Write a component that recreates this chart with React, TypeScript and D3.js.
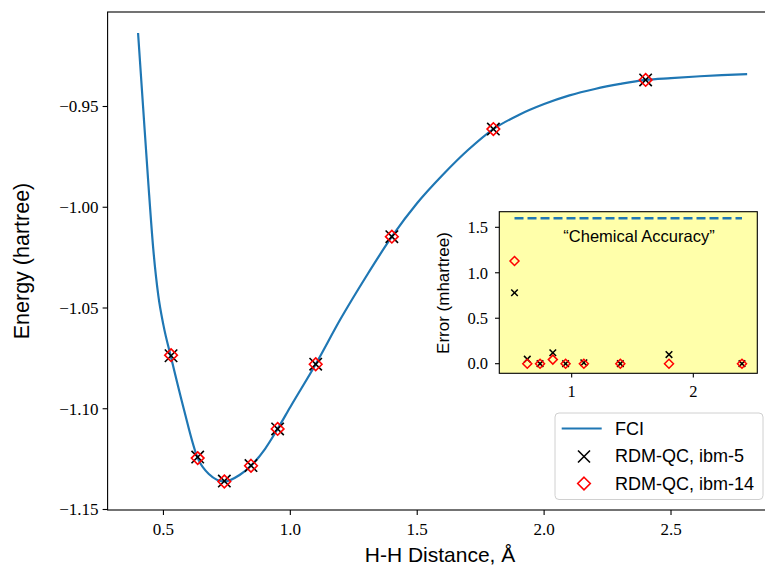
import React from 'react';
import * as d3 from 'd3';

// FCI potential energy curve
const fciR = [0.40, 0.42, 0.44, 0.46, 0.48, 0.50, 0.53, 0.58, 0.635, 0.68, 0.74, 0.80, 0.845, 0.90, 0.95, 1.00, 1.10, 1.20, 1.30, 1.40, 1.50, 1.60, 1.70, 1.80, 1.90, 2.00, 2.10, 2.20, 2.30, 2.40, 2.50, 2.60, 2.70, 2.80];
const fciE = [-0.9135, -0.9505, -0.9872, -1.0208, -1.0440, -1.0585, -1.0745, -1.1000, -1.1245, -1.1325, -1.1361, -1.1329, -1.1283, -1.1200, -1.1100, -1.0991, -1.0779, -1.0550, -1.0341, -1.0146, -0.9979, -0.9840, -0.9716, -0.9612, -0.9542, -0.9488, -0.9445, -0.9413, -0.9388, -0.9368, -0.9359, -0.9351, -0.9344, -0.9339];

// RDM-QC points
const pointR = [0.53, 0.635, 0.74, 0.845, 0.95, 1.1, 1.4, 1.8, 2.4];
const ibm5E = [-1.0737, -1.1240, -1.1359, -1.1282, -1.1100, -1.0779, -1.0146, -0.9612, -0.9368];
const ibm14E = [-1.0734, -1.1245, -1.1361, -1.1283, -1.1100, -1.0779, -1.0146, -0.9612, -0.9368];
const ibm5Err = [0.78, 0.05, 0.0, 0.12, 0.0, 0.01, 0.0, 0.10, 0.0];
const ibm14Err = [1.13, 0.0, 0.0, 0.045, 0.0, 0.0, 0.0, 0.0, 0.0];
const chemAccuracy = 1.6;

const xTicks = [0.5, 1.0, 1.5, 2.0, 2.5];
const yTicks = [-0.95, -1.0, -1.05, -1.1, -1.15];
const insetXTicks = [1, 2];
const insetYTicks = [0.0, 0.5, 1.0, 1.5];

const legendLabels = ['FCI', 'RDM-QC, ibm-5', 'RDM-QC, ibm-14'];

const BLUE = '#1f77b4';
const SANS = '"Liberation Sans", Arial, Helvetica, sans-serif';
const SERIF = '"Liberation Serif", "DejaVu Serif", serif';

const XMark = ({ cx, cy, r, sw }: { cx: number; cy: number; r: number; sw: number }) => (
  <g stroke="#000" strokeWidth={sw}>
    <line x1={cx - r} y1={cy - r} x2={cx + r} y2={cy + r} />
    <line x1={cx - r} y1={cy + r} x2={cx + r} y2={cy - r} />
  </g>
);
const Diamond = ({ cx, cy, r, sw }: { cx: number; cy: number; r: number; sw: number }) => (
  <polygon
    points={`${cx},${cy - r} ${cx + r},${cy} ${cx},${cy + r} ${cx - r},${cy}`}
    fill="none"
    stroke="red"
    strokeWidth={sw}
  />
);

export default function App() {
  const W = 765, H = 569;
  // main axes
  const x = d3.scaleLinear().domain([0.28, 2.92]).range([107.6, 777.6]);
  const y = d3.scaleLinear().domain([-1.15025, -0.9031]).range([510, 12]);
  const line = d3
    .line<number>()
    .x((_, i) => x(fciR[i]))
    .y((d) => y(d))
    .curve(d3.curveMonotoneX);

  // inset axes
  const ix = d3.scaleLinear().domain([0.405, 2.526]).range([499.3, 757.3]);
  const iy = d3.scaleLinear().domain([-0.1056, 1.6716]).range([373.3, 211.7]);
  const fmtMain = (v: number) => (v < 0 ? '\u2212' : '') + Math.abs(v).toFixed(2);

  const left = x.range()[0], top = y.range()[1], bottom = y.range()[0];
  const right = x.range()[1];

  return (
    <svg width={W} height={H} style={{ position: 'absolute', left: 0, top: 0, background: '#fff' }}>
      <rect width={W} height={H} fill="#fff" />
      <defs>
        <clipPath id="mainclip">
          <rect x={left} y={top} width={right - left} height={bottom - top} />
        </clipPath>
      </defs>
      {/* FCI curve */}
      <path d={line(fciE) || ''} fill="none" stroke={BLUE} strokeWidth={2.2} clipPath="url(#mainclip)" />
      {/* points */}
      {pointR.map((r, i) => (
        <XMark key={'x' + i} cx={x(r)} cy={y(ibm5E[i])} r={6.2} sw={1.6} />
      ))}
      {pointR.map((r, i) => (
        <Diamond key={'d' + i} cx={x(r)} cy={y(ibm14E[i])} r={6.3} sw={1.6} />
      ))}
      {/* spines */}
      <rect x={left} y={top} width={right - left} height={bottom - top} fill="none" stroke="#000" strokeWidth={1.1} />
      {/* x ticks */}
      {xTicks.map((t) => (
        <g key={'xt' + t}>
          <line x1={x(t)} x2={x(t)} y1={bottom} y2={bottom + 5} stroke="#000" strokeWidth={1.1} />
          <text x={x(t)} y={bottom + 25} textAnchor="middle" fontFamily={SERIF} fontSize={17}>
            {t.toFixed(1)}
          </text>
        </g>
      ))}
      {yTicks.map((t) => (
        <g key={'yt' + t}>
          <line x1={left - 5} x2={left} y1={y(t)} y2={y(t)} stroke="#000" strokeWidth={1.1} />
          <text x={left - 9} y={y(t)} dy="0.35em" textAnchor="end" fontFamily={SERIF} fontSize={17}>
            {fmtMain(t)}
          </text>
        </g>
      ))}
      <text x={440} y={562} textAnchor="middle" fontFamily={SANS} fontSize={21}>
        H-H Distance, Å
      </text>
      <text transform={`translate(29,${(top + bottom) / 2}) rotate(-90)`} textAnchor="middle" fontFamily={SANS} fontSize={21.5}>
        Energy (hartree)
      </text>

      {/* inset */}
      <rect x={499.3} y={211.7} width={258} height={161.6} fill="#ffffaa" stroke="#000" strokeWidth={1.1} />
      <line x1={ix(pointR[0])} x2={ix(pointR[pointR.length - 1])} y1={iy(chemAccuracy)} y2={iy(chemAccuracy)} stroke={BLUE} strokeWidth={2.4} strokeDasharray="9,4" />
      <text x={639} y={241.5} textAnchor="middle" fontFamily={SANS} fontSize={16.5}>
        {'\u201CChemical Accuracy\u201D'}
      </text>
      {pointR.map((r, i) => (
        <XMark key={'ix' + i} cx={ix(r)} cy={iy(ibm5Err[i])} r={3.3} sw={1.5} />
      ))}
      {pointR.map((r, i) => (
        <Diamond key={'id' + i} cx={ix(r)} cy={iy(ibm14Err[i])} r={4.5} sw={1.5} />
      ))}
      {insetXTicks.map((t) => (
        <g key={'ixt' + t}>
          <line x1={ix(t)} x2={ix(t)} y1={373.3} y2={377.5} stroke="#000" strokeWidth={1.1} />
          <text x={ix(t)} y={397} textAnchor="middle" fontFamily={SERIF} fontSize={16.5}>
            {t}
          </text>
        </g>
      ))}
      {insetYTicks.map((t) => (
        <g key={'iyt' + t}>
          <line x1={495} x2={499.3} y1={iy(t)} y2={iy(t)} stroke="#000" strokeWidth={1.1} />
          <text x={488} y={iy(t)} dy="0.35em" textAnchor="end" fontFamily={SERIF} fontSize={16.5}>
            {t.toFixed(1)}
          </text>
        </g>
      ))}
      <text transform={`translate(449,293) rotate(-90)`} textAnchor="middle" fontFamily={SANS} fontSize={17}>
        Error (mhartree)
      </text>

      {/* legend */}
      <rect x={555} y={413} width={208} height={86.5} rx={4} fill="#fff" fillOpacity={0.85} stroke="#d0d0d0" strokeWidth={1} />
      <line x1={561.7} x2={601.7} y1={428.5} y2={428.5} stroke={BLUE} strokeWidth={2.2} />
      <XMark cx={584} cy={456.5} r={6} sw={1.6} />
      <Diamond cx={584} cy={483.5} r={6.3} sw={1.6} />
      {legendLabels.map((l, i) => (
        <text key={l} x={615} y={428.5 + i * 27.5} dy="0.35em" fontFamily={SANS} fontSize={18}>
          {l}
        </text>
      ))}
    </svg>
  );
}
